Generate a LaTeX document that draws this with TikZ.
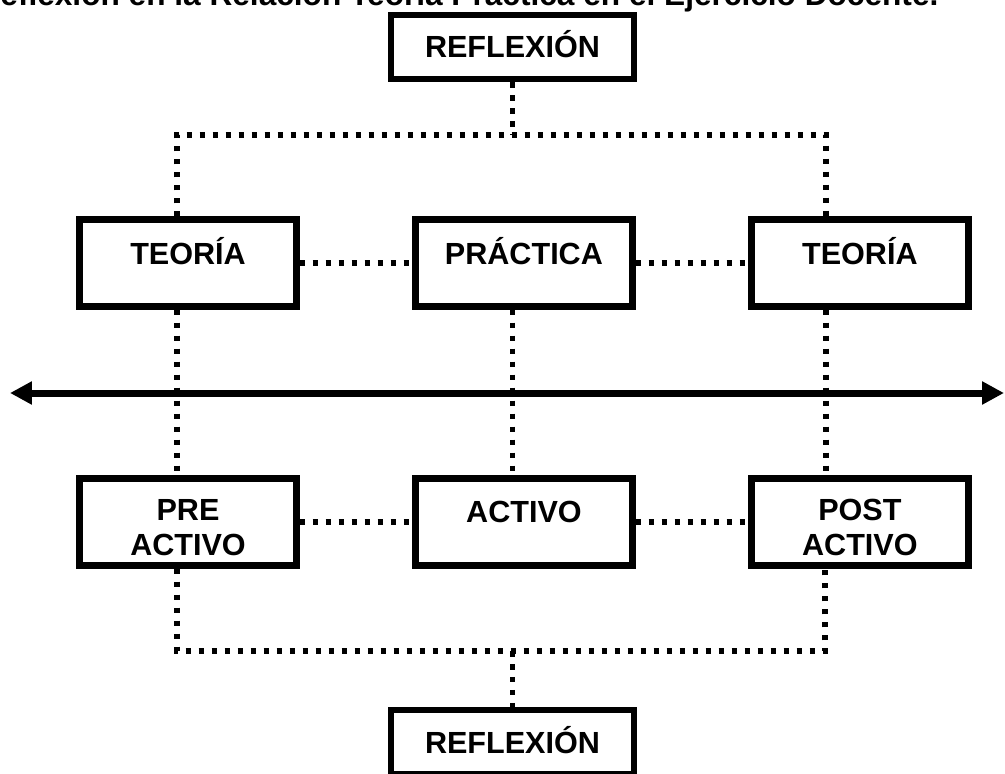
\documentclass[tikz,border=0pt]{standalone}
\usepackage{fontspec}
\setmainfont{Liberation Sans}
\usetikzlibrary{arrows.meta}
\tikzset{
  box/.style={draw, line width=0.13cm, minimum width=4.34cm, minimum height=1.74cm,
    inner sep=0pt, align=center, text height=0.44cm, text depth=0pt,
    font=\bfseries\fontsize{17.4pt}{20pt}\selectfont},
  raised/.style={text depth=0.4cm},
  twoline/.style={text height=1.36cm},
  refl/.style={box, minimum width=4.86cm, minimum height=1.28cm},
  dots/.style={line width=0.11cm, dash pattern=on 0.11cm off 0.15cm},
  axis/.style={line width=0.14cm,
    {Triangle[length=0.44cm,width=0.44cm]}-{Triangle[length=0.44cm,width=0.44cm]}}
}
\begin{document}
\begin{tikzpicture}[x=0.02cm, y=-0.02cm, node distance=6.72cm]
      \path[fill=white, use as bounding box] (0,0) rectangle (1005,774);
      \node[font=\bfseries\fontsize{18pt}{20pt}\selectfont, anchor=base] (head) at (458,6)
        {Reflexión en la Relación Teoría Práctica en el Ejercicio Docente.};

      \node[refl] (R1) at (512.5,47) {REFLEXIÓN};
      \node[box, raised] (T1) at (188,263) {TEORÍA};
      \node[box, raised, right of=T1] (P) {PRÁCTICA};
      \node[box, raised, right of=P] (T3) {TEORÍA};
      \node[box, twoline, node distance=5.18cm, below of=T1] (B1) {PRE\\ACTIVO};
      \node[box, raised, right of=B1] (B2) {ACTIVO};
      \node[box, twoline, right of=B2] (B3) {POST\\ACTIVO};
      \node[refl] (R2) at (512.5,742) {REFLEXIÓN};

      \coordinate (ul) at (177,135);
      \coordinate (ur) at (826,135);
      \coordinate (ll) at (177,651);
      \coordinate (lr) at (825,651);
      \coordinate (aL) at (10,393);
      \coordinate (aR) at (1004,393);

      \draw[dots] (R1.south) -- (R1.south |- ul);
      \draw[dots] (T1.north -| ul) -- (ul) -- (ur) -- (T3.north -| ur);
      \draw[dots] (T1.east) -- (P.west);
      \draw[dots] (P.east) -- (T3.west);
      \draw[dots] (T1.south -| ul) -- (B1.north -| ul);
      \draw[dots] (P.south -| R1) -- (B2.north -| R1);
      \draw[dots] (T3.south -| ur) -- (B3.north -| ur);
      \draw[dots] (B1.east) -- (B2.west);
      \draw[dots] (B2.east) -- (B3.west);
      \draw[dots] (B1.south -| ll) -- (ll) -- (lr) -- (B3.south -| lr);
      \draw[dots] (ll -| R2) -- (R2.north);

      \draw[axis] (aL) -- (aR);
    \end{tikzpicture}
\end{document}
